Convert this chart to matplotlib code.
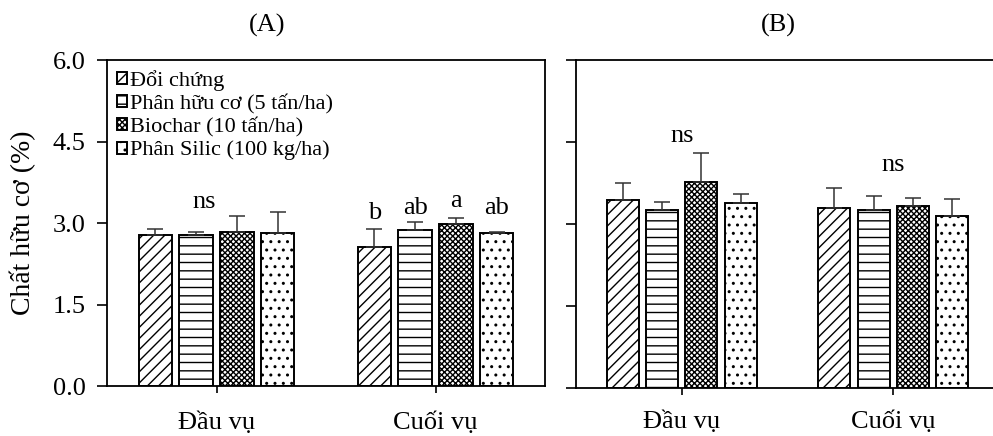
import matplotlib
matplotlib.use("Agg")
import matplotlib.pyplot as plt
import numpy as np

plt.rcParams['font.family'] = ['Liberation Serif', 'DejaVu Serif']
plt.rcParams['hatch.linewidth'] = 1.0

groups = ["Đầu vụ", "Cuối vụ"]
treatments = ["Đổi chứng", "Phân hữu cơ (5 tấn/ha)", "Biochar (10 tấn/ha)", "Phân Silic (100 kg/ha)"]

# Panel A: means and (upper) error per treatment, for [Đầu vụ, Cuối vụ]
a_means = [[2.77, 2.55], [2.77, 2.88], [2.84, 2.99], [2.81, 2.81]]
a_err = [[0.12, 0.34], [0.07, 0.14], [0.29, 0.11], [0.40, 0.02]]
# Panel B
b_means = [[3.43, 3.30], [3.26, 3.26], [3.77, 3.33], [3.38, 3.15]]
b_err = [[0.32, 0.36], [0.15, 0.26], [0.52, 0.15], [0.17, 0.30]]

a_letters_cuoi = ["b", "ab", "a", "ab"]
a_letters_y = [3.07, 3.16, 3.30, 3.16]
y_ticks = [0.0, 1.5, 3.0, 4.5, 6.0]

hatches = ["///", "--", "xxxxxx", ".."]
W, H = 993, 436
fig = plt.figure(figsize=(W / 100, H / 100), dpi=100)

axA = fig.add_axes([107 / W, 1 - 386 / H, (545 - 107) / W, (386 - 60) / H])
axB = fig.add_axes([576 / W, 1 - 388 / H, (999 - 576) / W, (388 - 60) / H])

x = np.arange(len(groups))
bw = 0.152
step = 0.186

def draw(ax, means, errs, xpad):
    for i in range(4):
        pos = x + (i - 1.5) * step
        ax.bar(pos, means[i], width=bw, facecolor='white', edgecolor='black',
               linewidth=1.4, hatch=hatches[i], label=treatments[i], zorder=2)
        ax.errorbar(pos, means[i], yerr=[np.zeros(len(groups)), errs[i]], fmt='none',
                    ecolor='#333333', elinewidth=1.1, capsize=6, capthick=1.1, zorder=3)
    ax.set_xlim(-0.5, 1.5)
    ax.set_ylim(0, 6.0)
    ax.set_yticks(y_ticks)
    ax.set_xticks(x)
    ax.set_xticklabels(groups, fontsize=19)
    ax.tick_params(axis='y', direction='out', length=7.5, width=1.2, labelsize=19, pad=8)
    ax.tick_params(axis='x', direction='out', length=5, width=1.2, pad=xpad)
    for s in ax.spines.values():
        s.set_linewidth(1.3)

draw(axA, a_means, a_err, 13)
draw(axB, b_means, b_err, 11.5)

axA.set_yticklabels([f"{v:.1f}" for v in y_ticks])
axB.set_yticklabels([])
axA.set_ylabel("Chất hữu cơ (%)", fontsize=20, labelpad=12)

# letters
axA.text(-0.055, 3.28, "ns", ha='center', va='baseline', fontsize=19)
for i, t in enumerate(a_letters_cuoi):
    pos = 1 + (i - 1.5) * step
    axA.text(pos, a_letters_y[i], t, ha='center', va='baseline', fontsize=19)
axB.text(0, 4.50, "ns", ha='center', va='baseline', fontsize=19)
axB.text(1, 3.97, "ns", ha='center', va='baseline', fontsize=19)

fig.text(267 / W, 1 - 25 / H, "(A)", ha='center', va='center', fontsize=19)
fig.text(778 / W, 1 - 25 / H, "(B)", ha='center', va='center', fontsize=19)

leg = axA.legend(loc='upper left', bbox_to_anchor=(0.022, 0.97), frameon=False,
                 fontsize=16, handlelength=0.45, handleheight=0.45, handletextpad=0.15,
                 labelspacing=0.15, borderpad=0, borderaxespad=0)

fig.savefig("out.png", dpi=100)
